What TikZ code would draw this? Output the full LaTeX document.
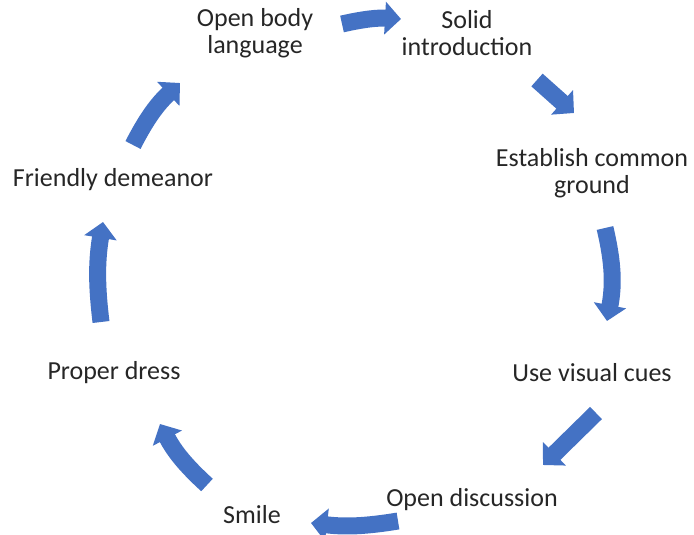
\documentclass[tikz,border=0pt]{standalone}
\usepackage{fontspec}
\setmainfont{Carlito}
\usetikzlibrary{arrows.meta}
\definecolor{cycleblue}{HTML}{4472C4}
\begin{document}
\begin{tikzpicture}[x=1pt,y=-1pt,
    steptext/.style={align=center,font=\fontsize{26}{27}\selectfont,text=black!85},
    cyc/.style={draw=cycleblue,line width=17pt,-{Triangle[length=16pt,width=32pt]}}]
  \useasboundingbox (0,0) rectangle (694,535);
  % steps
  \node[steptext] (body) at (255,33) {Open body\\language};
  \node[steptext] (intro) at (467,33) {Solid\\introduction};
  \node[steptext] (ground) at (592,173) {Establish common\\ground};
  \node[steptext] (cues) at (592,373) {Use visual cues};
  \node[steptext] (discuss) at (472,500) {Open discussion};
  \node[steptext] (smile) at (252,515) {Smile};
  \node[steptext] (dress) at (114,373) {Proper dress};
  \node[steptext] (friendly) at (113,180) {Friendly demeanor};
  % arrow ends
  \coordinate (a1) at (342,24); \coordinate (b1) at (401,19);
  \coordinate (a2) at (537,80); \coordinate (b2) at (574,113);
  \coordinate (a3) at (605,228); \coordinate (b3) at (607,321);
  \coordinate (a4) at (596,413); \coordinate (b4) at (543,465);
  \coordinate (a5) at (398,521); \coordinate (b5) at (311,523);
  \coordinate (a6) at (207,485); \coordinate (b6) at (160,424);
  \coordinate (a7) at (101,322); \coordinate (b7) at (103,222);
  \coordinate (a8) at (133,145); \coordinate (b8) at (180,83);
  % arrows
  \draw[cyc] (a1) to[bend left=8] (b1);
  \draw[cyc] (a2) -- (b2);
  \draw[cyc] (a3) to[bend left=12] (b3);
  \draw[cyc] (a4) -- (b4);
  \draw[cyc] (a5) to[bend left=8] (b5);
  \draw[cyc] (a6) to[bend left=10] (b6);
  \draw[cyc] (a7) to[bend left=8] (b7);
  \draw[cyc] (a8) to[bend left=10] (b8);
\end{tikzpicture}
\end{document}
